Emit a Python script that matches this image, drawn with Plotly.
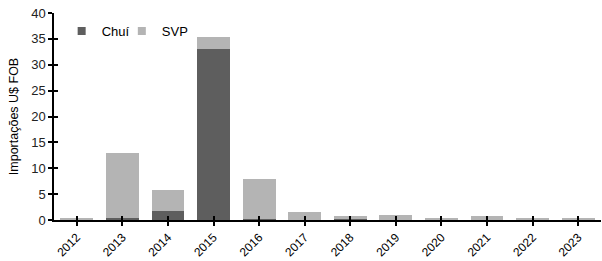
import plotly.graph_objects as go

years = ["2012", "2013", "2014", "2015", "2016", "2017", "2018", "2019", "2020", "2021", "2022", "2023"]
chui = [0.1, 0.4, 1.8, 33.0, 0.2, 0.05, 0.1, 0.05, 0.05, 0.05, 0.05, 0.05]
svp = [0.35, 12.6, 4.0, 2.4, 7.7, 1.55, 0.7, 0.9, 0.4, 0.65, 0.15, 0.25]
y_ticks = [0, 5, 10, 15, 20, 25, 30, 35, 40]
series_names = ["Chuí", "SVP"]
series_colors = ["#5e5e5e", "#b4b4b4"]

FONT = "Liberation Sans, Arial, sans-serif"

fig = go.Figure()
fig.add_trace(go.Bar(x=years, y=chui, name=series_names[0], showlegend=False,
                     marker=dict(color=series_colors[0], line=dict(width=0))))
fig.add_trace(go.Bar(x=years, y=svp, name=series_names[1], showlegend=False,
                     marker=dict(color=series_colors[1], line=dict(width=0))))
# legend proxies with small square symbols (one legend box per entry)
for n, c, lg in zip(series_names, series_colors, ["legend", "legend2"]):
    fig.add_trace(go.Scatter(x=[None], y=[None], mode="markers", name=n, legend=lg,
                             marker=dict(symbol="square", size=8, color=c)))
# invisible trace on overlay axes for crossing ticks
fig.add_trace(go.Bar(x=years, y=[0]*len(years), xaxis="x2", yaxis="y2", showlegend=False,
                     hoverinfo="skip", marker=dict(color="rgba(0,0,0,0)")))

leg_common = dict(orientation="h", y=0.985, xanchor="left", yanchor="top",
                  font=dict(size=13, family=FONT, color="black"), bgcolor="rgba(0,0,0,0)")

fig.update_layout(
    barmode="stack",
    bargap=0.28,
    width=602, height=261,
    margin=dict(l=54, r=1, t=13, b=41),
    paper_bgcolor="white", plot_bgcolor="white",
    font=dict(family=FONT, size=12, color="black"),
    showlegend=True,
    legend=dict(x=0.014, **leg_common),
    legend2=dict(x=0.124, **leg_common),
    xaxis=dict(type="category", showline=True, linecolor="black", linewidth=1.5,
               ticks="outside", ticklen=4, tickwidth=1.5, tickcolor="black",
               tickangle=-45, tickfont=dict(size=12, family=FONT, color="black"),
               showgrid=False, zeroline=False),
    yaxis=dict(range=[0, 40], tickvals=y_ticks, showline=True, linecolor="black", linewidth=1.5,
               ticks="outside", ticklen=4, tickwidth=1.5, tickcolor="black",
               tickfont=dict(size=13, family=FONT, color="#222"), showgrid=False, zeroline=False,
               title=dict(text="Importações U$ FOB", font=dict(size=12.5, family=FONT, color="black"),
                          standoff=10)),
    xaxis2=dict(type="category", overlaying="x", matches="x", showline=False, ticks="inside",
                ticklen=4, tickwidth=1.5, tickcolor="black", showticklabels=False, showgrid=False,
                zeroline=False, anchor="y2"),
    yaxis2=dict(overlaying="y", matches="y", range=[0, 40], tickvals=y_ticks, showline=False,
                ticks="inside", ticklen=4, tickwidth=1.5, tickcolor="black", showticklabels=False,
                showgrid=False, zeroline=False, anchor="x2"),
)

fig.write_html("out.html")
